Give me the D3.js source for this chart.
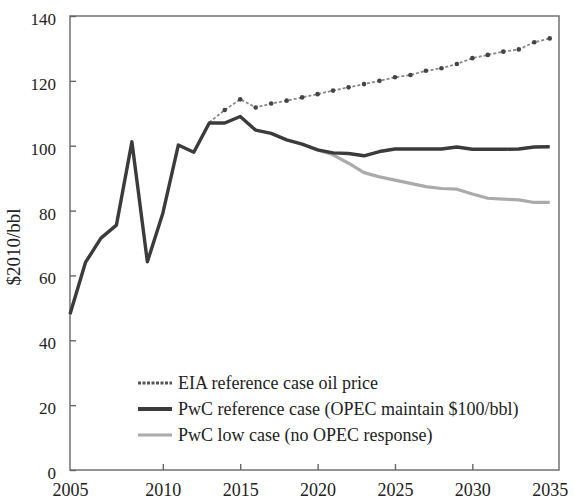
<!DOCTYPE html>
<html>
<head>
<meta charset="utf-8">
<script src="https://cdn.jsdelivr.net/npm/d3@7"></script>
<style>
  html, body { margin: 0; padding: 0; background: #fff; }
  svg { display: block; }
</style>
</head>
<body>
<svg id="chart" width="574" height="499"></svg>
<script>
// ---------- data ----------
const histYears = [2004, 2005, 2006, 2007, 2008, 2009, 2010, 2011, 2012, 2013];
const histValues = [48, 64, 71.5, 75.5, 101.2, 64.2, 79.2, 100.2, 98, 107];

const refYears = [2013, 2014, 2015, 2016, 2017, 2018, 2019, 2020, 2021, 2022, 2023, 2024, 2025, 2026, 2027, 2028, 2029, 2030, 2031, 2032, 2033, 2034, 2035];
const refValues = [107, 107, 109, 104.8, 103.8, 101.8, 100.5, 98.7, 97.8, 97.6, 96.9, 98.2, 99, 99, 99, 99, 99.6, 98.9, 98.9, 98.9, 99, 99.6, 99.7];

const lowYears = [2020, 2021, 2022, 2023, 2024, 2025, 2026, 2027, 2028, 2029, 2030, 2031, 2032, 2033, 2034, 2035];
const lowValues = [98.7, 97.2, 94.6, 91.7, 90.4, 89.4, 88.4, 87.4, 86.8, 86.6, 85.1, 83.8, 83.5, 83.3, 82.5, 82.5];

const eiaYears = [2013, 2014, 2015, 2016, 2017, 2018, 2019, 2020, 2021, 2022, 2023, 2024, 2025, 2026, 2027, 2028, 2029, 2030, 2031, 2032, 2033, 2034, 2035];
const eiaValues = [107.2, 111, 114.3, 111.8, 113, 113.9, 114.9, 115.9, 117, 118, 119, 120, 121.1, 121.8, 123.1, 123.9, 125.2, 127, 128, 129, 129.7, 131.9, 133.1];

const yTicks = [0, 20, 40, 60, 80, 100, 120, 140];
const xTickYears = [2004, 2010, 2015, 2020, 2025, 2030, 2035];
const xTickLabels = ["2005", "2010", "2015", "2020", "2025", "2030", "2035"];
const seriesNames = [
  "EIA reference case oil price",
  "PwC reference case (OPEC maintain $100/bbl)",
  "PwC low case (no OPEC response)"
];

// ---------- layout ----------
const FONT = "'Liberation Serif', 'Times New Roman', serif";
const svg = d3.select("#chart");
const plot = { left: 70, right: 559, top: 16, bottom: 470 };

const x = d3.scaleLinear().domain([2004, 2035.6]).range([plot.left, plot.right]);
const y = d3.scaleLinear().domain([0, 140]).range([plot.bottom, plot.top]);

const zip = (xs, vs) => xs.map((d, i) => ({ year: d, value: vs[i] }));
const line = d3.line().x(d => x(d.year)).y(d => y(d.value));

// frame
svg.append("rect")
  .attr("x", plot.left).attr("y", plot.top)
  .attr("width", plot.right - plot.left).attr("height", plot.bottom - plot.top)
  .attr("fill", "none").attr("stroke", "#7a7a7a").attr("stroke-width", 1.6);

// y axis ticks (inward)
const yAxis = d3.axisLeft(y).tickValues(yTicks).tickSize(-6).tickPadding(14).tickFormat(d3.format("d"));
const gy = svg.append("g").attr("transform", `translate(${plot.left},0)`).call(yAxis)
  .attr("font-family", FONT);
gy.select(".domain").remove();
gy.selectAll(".tick line").attr("stroke", "#666").attr("stroke-width", 1.4);
gy.selectAll(".tick text").attr("font-size", 17).attr("fill", "#222").attr("dy", "0.5em");

// x axis ticks (inward)
const xAxis = d3.axisBottom(x).tickValues(xTickYears).tickSize(-6).tickPadding(13)
  .tickFormat((d, i) => xTickLabels[i]);
const gx = svg.append("g").attr("transform", `translate(0,${plot.bottom})`).call(xAxis)
  .attr("font-family", FONT);
gx.select(".domain").remove();
gx.selectAll(".tick line").attr("stroke", "#666").attr("stroke-width", 1.4)
  .attr("display", d => (d === 2004 || d === 2035) ? "none" : null);
gx.selectAll(".tick text").attr("font-size", 18).attr("fill", "#222");

// y label
svg.append("text")
  .attr("transform", `translate(20,${(plot.top + plot.bottom) / 2 + 4}) rotate(-90)`)
  .attr("text-anchor", "middle")
  .attr("font-family", FONT)
  .attr("font-size", 19)
  .attr("fill", "#222")
  .text("$2010/bbl");

// ---------- series ----------
const dark = "#3b3b3b", light = "#ababab";

// PwC low case
svg.append("path").datum(zip(lowYears, lowValues))
  .attr("d", line).attr("fill", "none").attr("stroke", light).attr("stroke-width", 3.2)
  .attr("stroke-linejoin", "round");

// EIA reference case
const eia = zip(eiaYears, eiaValues);
svg.append("path").datum(eia)
  .attr("d", line).attr("fill", "none").attr("stroke", "#8a8a8a").attr("stroke-width", 1.8)
  .attr("stroke-dasharray", "3,2");
svg.append("g").selectAll("circle").data(eia.slice(1)).join("circle")
  .attr("cx", d => x(d.year)).attr("cy", d => y(d.value)).attr("r", 2.3)
  .attr("fill", "#444");

// history + PwC reference case
svg.append("path").datum(zip(histYears, histValues).concat(zip(refYears, refValues).slice(1)))
  .attr("d", line).attr("fill", "none").attr("stroke", dark).attr("stroke-width", 3.4)
  .attr("stroke-linejoin", "round");

// ---------- legend ----------
const lg = svg.append("g").attr("font-family", FONT).attr("fill", "#222");
const lx0 = 138, lx1 = 172, ly0 = 383, lstep = 26;
seriesNames.forEach((name, i) => {
  const yy = ly0 + i * lstep;
  if (i === 0) {
    lg.append("line").attr("x1", lx0).attr("x2", lx1).attr("y1", yy).attr("y2", yy)
      .attr("stroke", "#555").attr("stroke-width", 3).attr("stroke-dasharray", "3,1.5");
  } else {
    lg.append("line").attr("x1", lx0).attr("x2", lx1).attr("y1", yy).attr("y2", yy)
      .attr("stroke", i === 1 ? dark : light).attr("stroke-width", i === 1 ? 4 : 3.2);
  }
  lg.append("text").attr("x", 178).attr("y", yy).attr("dy", "0.35em")
    .attr("font-size", 18).text(name);
});
</script>
</body>
</html>
